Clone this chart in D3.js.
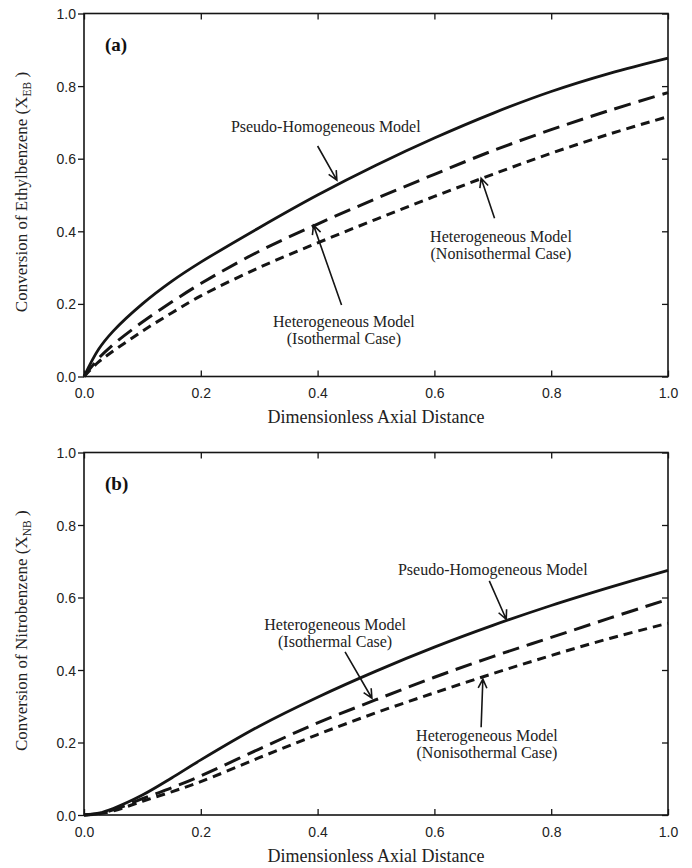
<!DOCTYPE html>
<html>
<head>
<meta charset="utf-8">
<script src="https://cdn.jsdelivr.net/npm/d3@7"></script>
<style>
  html, body { margin: 0; padding: 0; background: #fff; }
  svg { display: block; }
  .tick text { font-family: "Liberation Sans", Arial, sans-serif; font-size: 14px; fill: #222; }
</style>
</head>
<body>
<svg id="chart" width="692" height="868"></svg>
<script>
// Dimensionless axial distance at which the profiles are sampled
const axialDistance = [0, 0.025, 0.05, 0.1, 0.15, 0.2, 0.3, 0.4, 0.5, 0.6, 0.7, 0.8, 0.9, 1.0];

// (a) ethylbenzene conversion
const ebPseudoHomogeneous   = [0, 0.075, 0.125, 0.2, 0.262, 0.315, 0.41, 0.5, 0.582, 0.657, 0.725, 0.785, 0.835, 0.877];
const ebHeteroIsothermal    = [0, 0.05, 0.088, 0.15, 0.205, 0.256, 0.345, 0.42, 0.49, 0.557, 0.622, 0.68, 0.733, 0.782];
const ebHeteroNonisothermal = [0, 0.04, 0.07, 0.125, 0.175, 0.222, 0.30, 0.368, 0.433, 0.496, 0.557, 0.615, 0.668, 0.716];

// (b) nitrobenzene conversion
const nbPseudoHomogeneous   = [0, 0.005, 0.018, 0.055, 0.102, 0.152, 0.245, 0.325, 0.397, 0.463, 0.523, 0.578, 0.628, 0.675];
const nbHeteroIsothermal    = [0, 0.004, 0.014, 0.045, 0.075, 0.108, 0.182, 0.254, 0.318, 0.38, 0.437, 0.49, 0.543, 0.595];
const nbHeteroNonisothermal = [0, 0.003, 0.011, 0.038, 0.064, 0.092, 0.158, 0.222, 0.282, 0.337, 0.39, 0.44, 0.487, 0.529];

const xTickValues = [0, 0.2, 0.4, 0.6, 0.8, 1.0];
const yTickValues = [0, 0.2, 0.4, 0.6, 0.8, 1.0];

const xTitle = "Dimensionless Axial Distance";
const modelLabels = {
  pseudo: ["Pseudo-Homogeneous Model"],
  iso: ["Heterogeneous Model", "(Isothermal Case)"],
  noniso: ["Heterogeneous Model", "(Nonisothermal Case)"]
};

const lineStyles = {
  pseudo: { dash: null, width: 2.8 },
  iso: { dash: "17,8", width: 3 },
  noniso: { dash: "9,6", width: 3 }
};

const panels = [
  {
    tag: "(a)", species: "Ethylbenzene", sub: "EB",
    top: 13.5, bottom: 376.5,
    series: { pseudo: ebPseudoHomogeneous, iso: ebHeteroIsothermal, noniso: ebHeteroNonisothermal },
    // label anchor (centre, first baseline) and arrow tail/head, in data units
    notes: [
      { key: "pseudo", at: [0.414, 0.673], tail: [0.40, 0.635], head: [0.433, 0.541] },
      { key: "iso", at: [0.445, 0.136], tail: [0.441, 0.197], head: [0.393, 0.417] },
      { key: "noniso", at: [0.714, 0.371], tail: [0.703, 0.436], head: [0.68, 0.546] }
    ]
  },
  {
    tag: "(b)", species: "Nitrobenzene", sub: "NB",
    top: 452.5, bottom: 815,
    series: { pseudo: nbPseudoHomogeneous, iso: nbHeteroIsothermal, noniso: nbHeteroNonisothermal },
    notes: [
      { key: "pseudo", at: [0.70, 0.662], tail: [0.694, 0.646], head: [0.723, 0.540] },
      { key: "iso", at: [0.43, 0.51], tail: [0.447, 0.45], head: [0.493, 0.322] },
      { key: "noniso", at: [0.69, 0.204], tail: [0.68, 0.242], head: [0.683, 0.375] }
    ]
  }
];

const svg = d3.select("#chart");
svg.append("rect").attr("width", 692).attr("height", 868).attr("fill", "#fff");

const left = 84, right = 668;
const ink = "#151515";
const serif = "'Liberation Serif', 'Times New Roman', serif";

panels.forEach(p => {
  const x = d3.scaleLinear().domain([0, 1]).range([left, right]);
  const y = d3.scaleLinear().domain([0, 1]).range([p.bottom, p.top]);
  const g = svg.append("g");

  // frame axes: outward ticks on the left, inward ticks elsewhere
  const fmt = d3.format(".1f");
  const bottomAxis = g.append("g").attr("transform", `translate(0,${p.bottom})`)
    .call(d3.axisBottom(x).tickValues(xTickValues).tickFormat(fmt).tickSize(-6).tickPadding(12));
  const topAxis = g.append("g").attr("transform", `translate(0,${p.top})`)
    .call(d3.axisTop(x).tickValues(xTickValues).tickFormat("").tickSize(-6));
  const leftAxis = g.append("g").attr("transform", `translate(${left},0)`)
    .call(d3.axisLeft(y).tickValues(yTickValues).tickFormat(fmt).tickSize(6).tickPadding(2));
  const rightAxis = g.append("g").attr("transform", `translate(${right},0)`)
    .call(d3.axisRight(y).tickValues(yTickValues).tickFormat("").tickSize(-6));
  [bottomAxis, topAxis, leftAxis, rightAxis].forEach(a => {
    a.select(".domain").attr("d", null);
    a.selectAll(".tick line").attr("stroke", ink).attr("stroke-width", 1.3);
  });
  g.append("rect")
    .attr("x", left).attr("y", p.top)
    .attr("width", right - left).attr("height", p.bottom - p.top)
    .attr("fill", "none").attr("stroke", ink).attr("stroke-width", 1.6);
  leftAxis.selectAll(".tick text").attr("dy", "0.36em");

  // x title
  g.append("text")
    .attr("x", (left + right) / 2).attr("y", p.bottom + 46 + (p.tag === "(b)" ? 1 : 0))
    .attr("text-anchor", "middle")
    .attr("font-family", serif).attr("font-size", 18).attr("fill", "#222")
    .text(xTitle);

  // y title with subscript
  const yMid = (p.top + p.bottom) / 2 - 3;
  const yt = g.append("text")
    .attr("transform", `translate(27,${yMid}) rotate(-90)`)
    .attr("text-anchor", "middle")
    .attr("font-family", serif).attr("font-size", 17).attr("fill", "#222");
  yt.append("tspan").text(`Conversion of ${p.species} (X`);
  yt.append("tspan").attr("font-size", 11.5).attr("dy", 4).text(p.sub);
  yt.append("tspan").attr("dy", -4).text(" )");

  // panel tag
  g.append("text")
    .attr("x", 105).attr("y", p.top + 37)
    .attr("font-family", serif).attr("font-size", 19).attr("font-weight", "bold").attr("fill", "#111")
    .text(p.tag);

  // model curves
  const line = d3.line()
    .x((d, i) => x(axialDistance[i]))
    .y(d => y(d))
    .curve(d3.curveCatmullRom.alpha(0.5));
  ["pseudo", "iso", "noniso"].forEach(k => {
    g.append("path")
      .datum(p.series[k])
      .attr("d", line)
      .attr("fill", "none")
      .attr("stroke", ink)
      .attr("stroke-width", lineStyles[k].width)
      .attr("stroke-dasharray", lineStyles[k].dash)
      .attr("stroke-linejoin", "round");
  });

  // labels with open-headed arrows
  p.notes.forEach(n => {
    const t = g.append("text")
      .attr("x", x(n.at[0])).attr("y", y(n.at[1]))
      .attr("text-anchor", "middle")
      .attr("font-family", serif).attr("font-size", 16).attr("fill", "#222");
    modelLabels[n.key].forEach((s, i) => {
      t.append("tspan").attr("x", x(n.at[0])).attr("dy", i === 0 ? 0 : 17).text(s);
    });
    const x0 = x(n.tail[0]), y0 = y(n.tail[1]), x1 = x(n.head[0]), y1 = y(n.head[1]);
    const ang = Math.atan2(y1 - y0, x1 - x0);
    const len = 10, spread = 0.45;
    const hp = d3.path();
    hp.moveTo(x0, y0); hp.lineTo(x1, y1);
    hp.moveTo(x1 - len * Math.cos(ang - spread), y1 - len * Math.sin(ang - spread));
    hp.lineTo(x1, y1);
    hp.lineTo(x1 - len * Math.cos(ang + spread), y1 - len * Math.sin(ang + spread));
    g.append("path").attr("d", hp.toString())
      .attr("fill", "none").attr("stroke", ink).attr("stroke-width", 1.6);
  });
});
</script>
</body>
</html>
